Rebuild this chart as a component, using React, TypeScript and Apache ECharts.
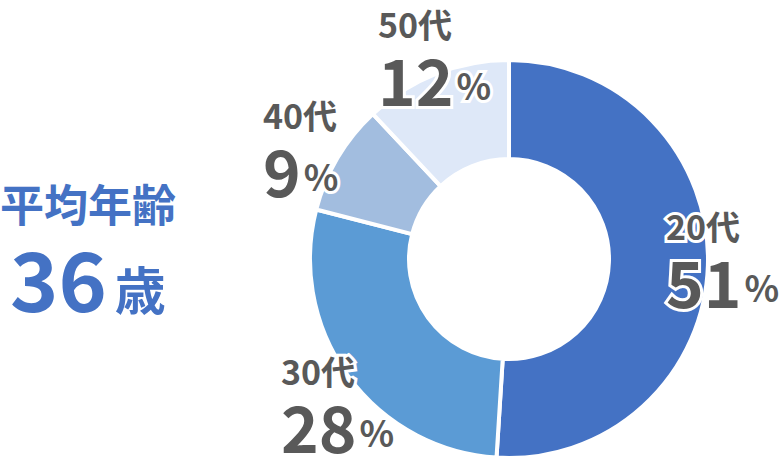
import React, { useEffect, useRef } from "react";
import * as echarts from "echarts";

const ageGroups = ["20代", "30代", "40代", "50代"];
const shares = [51, 28, 9, 12];
const sliceColors = ["#4472C4", "#5B9BD5", "#A2BDDF", "#DEE8F8"];
const avgTitle = "平均年齢";
const avgAge = 36;
const avgUnit = "歳";

// label anchor (top-left) positions, layout only
const LABEL_POS: [number, number][] = [
  [666, 204],
  [281, 349],
  [263, 93],
  [378, 2],
];

const FONT = '"Noto Sans CJK JP", "Noto Sans", sans-serif';
const GRAY = "#595959";
const BLUE = "#4472C4";

export default function App() {
  const ref = useRef<HTMLDivElement>(null);
  useEffect(() => {
    if (!ref.current) return;
    const chart = echarts.init(ref.current, null, { renderer: "svg" });
    const halo = { textBorderColor: "#ffffff", textBorderWidth: 6 };
    chart.setOption({
      animation: false,
      backgroundColor: "#ffffff",
      textStyle: { fontFamily: FONT },
      graphic: [
        {
          type: "text",
          left: 0,
          top: 181,
          style: {
            text: avgTitle,
            fill: BLUE,
            font: `bold 44px ${FONT}`,
          },
        },
        {
          type: "text",
          left: 10,
          top: 235,
          style: {
            text: `{n|${avgAge}}{u|${avgUnit}}`,
            rich: {
              n: {
                fontFamily: FONT,
                fontSize: 82,
                fontWeight: "bold",
                fill: BLUE,
                color: BLUE,
                lineHeight: 88,
              },
              u: {
                fontFamily: FONT,
                fontSize: 51,
                fontWeight: "bold",
                fill: BLUE,
                color: BLUE,
                padding: [24, 0, 0, 8],
              },
            },
          },
        },
      ],
      series: [
        {
          type: "pie",
          center: [509, 259],
          radius: [100, 199],
          startAngle: 90,
          clockwise: true,
          silent: true,
          avoidLabelOverlap: false,
          itemStyle: { borderColor: "#ffffff", borderWidth: 4 },
          labelLine: { show: false },
          emphasis: { disabled: true },
          label: {
            show: true,
            position: "inside",
            formatter: (p: any) => `{name|${p.name}}\n{num|${p.value}}{pct|%}`,
            color: GRAY,
            ...halo,
            rich: {
              name: {
                fontFamily: FONT,
                fontSize: 34,
                fontWeight: "bold",
                color: GRAY,
                lineHeight: 42,
                ...halo,
              },
              num: {
                fontFamily: FONT,
                fontSize: 64,
                fontWeight: "bold",
                color: GRAY,
                lineHeight: 68,
                ...halo,
              },
              pct: {
                fontFamily: FONT,
                fontSize: 36,
                fontWeight: "bold",
                color: GRAY,
                padding: [12, 0, 0, 3],
                ...halo,
              },
            },
          },
          labelLayout: (params: any) => {
            const pos = LABEL_POS[params.dataIndex];
            return { x: pos[0], y: pos[1], align: "left", verticalAlign: "top" };
          },
          data: ageGroups.map((name, i) => ({
            name,
            value: shares[i],
            itemStyle: { color: sliceColors[i] },
          })),
        },
      ],
    });
    return () => chart.dispose();
  }, []);
  return (
    <div
      ref={ref}
      style={{ position: "absolute", left: 0, top: 0, width: 783, height: 464 }}
    />
  );
}
